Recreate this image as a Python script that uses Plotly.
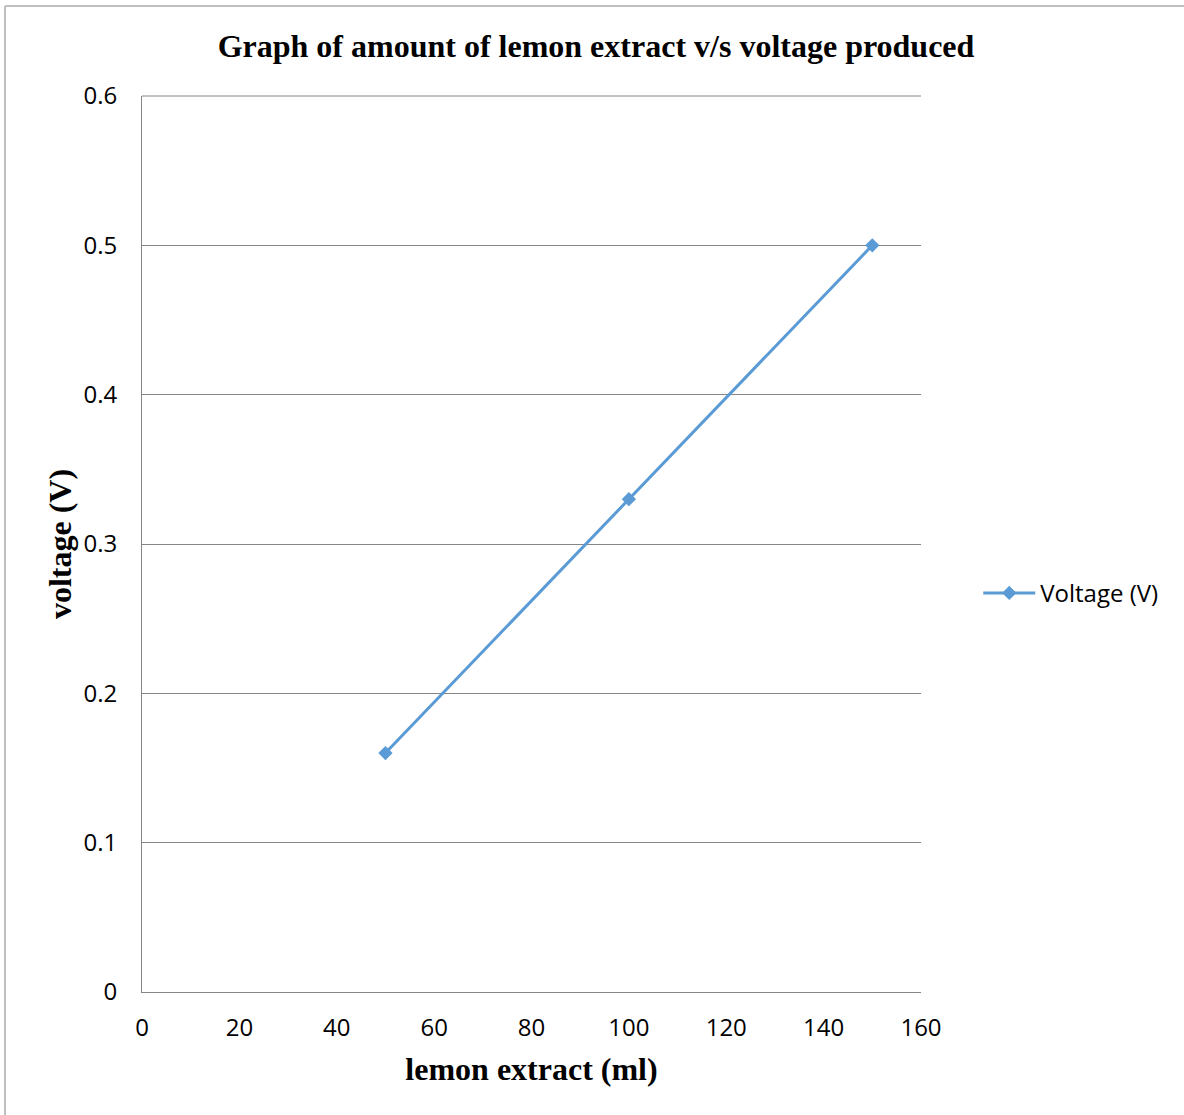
import plotly.graph_objects as go

lemon_ml = [50, 100, 150]
voltage_v = [0.16, 0.33, 0.5]
series_name = "Voltage (V)"
x_ticks = [0, 20, 40, 60, 80, 100, 120, 140, 160]
y_ticks = [0, 0.1, 0.2, 0.3, 0.4, 0.5, 0.6]

fig = go.Figure()
fig.add_trace(go.Scatter(
    x=lemon_ml, y=voltage_v, name=series_name, mode="lines+markers",
    line=dict(color="#5B9BD5", width=3),
    marker=dict(symbol="diamond", size=11, color="#5B9BD5"),
    showlegend=True,
))

fig.update_layout(
    width=1184, height=1115,
    margin=dict(l=142, r=263, t=96, b=123),
    paper_bgcolor="white", plot_bgcolor="white",
    title=dict(text="<b>Graph of amount of lemon extract v/s voltage produced</b>",
               font=dict(family="Liberation Serif", size=32, color="black"),
               x=596/1184, xanchor="center", y=1-46/1115, yanchor="middle"),
    xaxis=dict(range=[0, 160], tickvals=x_ticks, ticktext=[str(v) for v in x_ticks],
               showgrid=False, zeroline=False, showline=True, linecolor="#868686", linewidth=1,
               ticks="", ticklabelstandoff=14,
               tickfont=dict(family="Open Sans", size=24, color="black"),
               title=dict(text="<b>lemon extract (ml)</b>", standoff=15,
                          font=dict(family="Liberation Serif", size=32, color="black"))),
    yaxis=dict(range=[0, 0.6], tickvals=y_ticks, ticktext=["0", "0.1", "0.2", "0.3", "0.4", "0.5", "0.6"],
               showgrid=True, gridcolor="#868686", gridwidth=1, zeroline=False,
               showline=True, linecolor="#868686", linewidth=1, ticks="",
               ticklabelstandoff=19,
               tickfont=dict(family="Open Sans", size=24, color="black"),
               title=dict(text="<b>voltage (V)</b>", standoff=2,
                          font=dict(family="Liberation Serif", size=32, color="black"))),
    legend=dict(x=1.0735, xanchor="left", y=0.445, yanchor="middle", itemwidth=52,
                font=dict(family="Open Sans", size=24, color="black"),
                bgcolor="rgba(0,0,0,0)"),
    showlegend=True,
)

# top gridline at the range maximum
fig.add_shape(type="line", xref="paper", yref="paper", x0=0, x1=1, y0=1, y1=1,
              line=dict(color="#868686", width=1), layer="below")

# outer chart border (left and top visible)
fig.add_shape(type="line", xref="paper", yref="paper",
              x0=-137/779, x1=1.4, y0=1+90/896, y1=1+90/896,
              line=dict(color="#BFBFBF", width=2))
fig.add_shape(type="line", xref="paper", yref="paper",
              x0=-137/779, x1=-137/779, y0=1+90/896, y1=-0.2,
              line=dict(color="#BFBFBF", width=2))

fig.write_html("out.html", config={"displayModeBar": False},
               post_script="document.body.style.margin='0';")
